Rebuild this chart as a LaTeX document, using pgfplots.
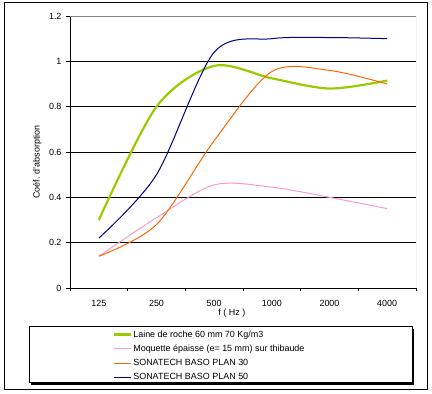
\documentclass[border=0pt]{standalone}
\usepackage{pgfplots}
\pgfplotsset{compat=1.18}
\usepackage{fontspec}
\setmainfont{Liberation Sans}
\definecolor{cgreen}{HTML}{99CC00}
\definecolor{cpink}{HTML}{FF99CC}
\definecolor{corange}{HTML}{FF6600}
\definecolor{cblue}{HTML}{000080}
\definecolor{cgray}{HTML}{808080}
\begin{document}
\begin{tikzpicture}
\path[use as bounding box] (0bp,0bp) rectangle (432bp,394bp);
\draw[line width=1bp] (4bp,4bp) rectangle (427bp,391bp);
\fill (31bp,9bp) rectangle (414bp,65bp);
\filldraw[fill=white,draw=black,line width=1bp] (29bp,11bp) rectangle (412bp,67bp);
\begin{axis}[
  at={(70bp,106bp)}, anchor=south west, scale only axis,
  width=346bp, height=272bp,
  xmin=-0.5, xmax=5.5, ymin=0, ymax=1.2,
  axis x line*=bottom, axis y line*=left,
  axis line style={-, black, line width=0.8bp},
  xtick={0,1,2,3,4,5},
  xticklabels={125,250,500,1000,2000,4000},
  major x tick style={draw=none},
  minor xtick={-0.5,0.5,1.5,2.5,3.5,4.5,5.5},
  minor tick length=3bp,
  major tick length=4bp,
  tick align=outside,
  tick style={black, line width=0.8bp},
  ytick={0,0.2,0.4,0.6,0.8,1,1.2},
  yticklabels={0,0.2,0.4,0.6,0.8,1,1.2},
  ymajorgrids, grid style={black, line width=0.8bp},
  tick label style={font=\fontsize{9}{10}\selectfont},
  xticklabel style={yshift=-5bp},
  yticklabel style={xshift=-1bp},
  xlabel={f ( Hz )},
  xlabel style={font=\fontsize{9}{10}\selectfont, at={(axis description cs:0.468,-0.092)}, anchor=center},
  ylabel={Coéf. d'absorption},
  ylabel style={font=\fontsize{9}{10}\selectfont, at={(axis description cs:-0.095,0.463)}, anchor=center},
  legend style={at={(axis description cs:0.124,-0.152)}, anchor=north west, draw=none, fill=none,
    font=\fontsize{9}{10}\selectfont, row sep=4.3bp, inner sep=0pt,
    nodes={inner sep=1bp}},
  legend cell align=left,
  legend image code/.code={\draw[#1] (0bp,0bp) -- (17bp,0bp);},
  every axis plot/.append style={smooth, tension=0.5},
]
\draw[cgray, line width=0.8bp] (rel axis cs:0,1) -- (rel axis cs:1,1) -- (rel axis cs:1,0);
\addplot[cgreen, line width=2.2bp] coordinates {(0,0.30) (1,0.80) (2,0.98) (3,0.925) (4,0.88) (5,0.915)};
\addlegendentry{Laine de roche 60 mm 70 Kg/m3}
\addplot[cpink, line width=1bp] coordinates {(0,0.14) (1,0.31) (2,0.455) (3,0.445) (4,0.40) (5,0.35)};
\addlegendentry{Moquette épaisse (e= 15 mm) sur thibaude}
\addplot[corange, line width=1bp] coordinates {(0,0.14) (1,0.28) (2,0.65) (3,0.955) (4,0.96) (5,0.90)};
\addlegendentry{SONATECH BASO PLAN 30}
\addplot[cblue, line width=1bp] coordinates {(0,0.22) (1,0.50) (2,1.04) (3,1.10) (4,1.105) (5,1.10)};
\addlegendentry{SONATECH BASO PLAN 50}
\end{axis}
\end{tikzpicture}
\end{document}
